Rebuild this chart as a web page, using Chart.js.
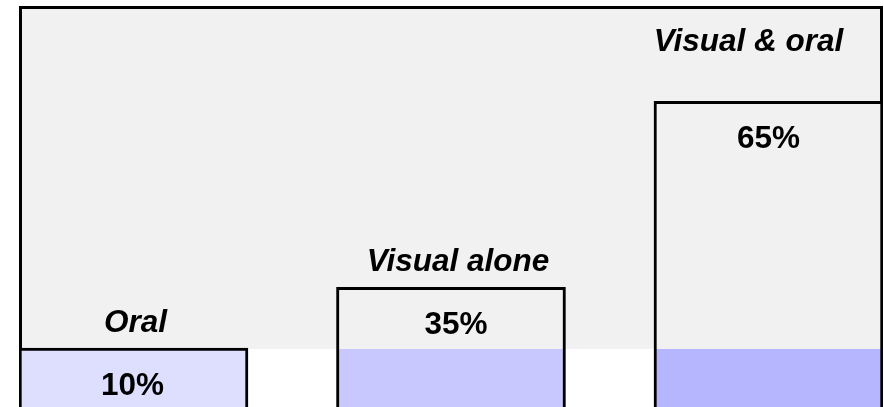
<!DOCTYPE html>
<html>
<head>
<meta charset="utf-8">
<script src="https://cdn.jsdelivr.net/npm/chart.js@4.4.1/dist/chart.umd.min.js"></script>
<style>
  html, body { margin: 0; padding: 0; background: #ffffff; }
  #wrap { width: 884px; height: 407px; position: relative; }
</style>
</head>
<body>
<div id="wrap"><canvas id="chartRetencao"></canvas></div>
<script>
// Dados
const categories = ['Oral', 'Visual alone', 'Visual & oral'];
const shares = [10, 35, 65];               // % printed inside each bar
const barHeights = [14.7, 29.85, 76.2];    // bar tops (0-100 drawing scale)
const cutLevel = 14.45;                    // level where the grey panel ends

// Estilo
const barColors = ['#dedeff', '#c8c8ff', '#b6b6ff'];
const panelGrey = '#f1f1f1';
const labelLift = [16, 16, 50];     // px above bar top for the category name
const labelShift = [2, 7, -20];     // px horizontal nudge for the category name
const valueShift = [-1, 5, 0];      // px horizontal nudge for the percentage
const fontFamily = '"Liberation Sans", Arial, Helvetica, sans-serif';

// fundo cinza + moldura
const panelPlugin = {
  id: 'panel',
  beforeDatasetsDraw(chart) {
    const { ctx, chartArea } = chart;
    const cut = chart.scales.y.getPixelForValue(cutLevel);
    ctx.save();
    ctx.fillStyle = panelGrey;
    ctx.fillRect(chartArea.left, chartArea.top, chartArea.right - chartArea.left, cut - chartArea.top);
    ctx.strokeStyle = '#000';
    ctx.lineWidth = 3;
    ctx.beginPath();
    ctx.moveTo(chartArea.left + 1.5, cut);
    ctx.lineTo(chartArea.left + 1.5, chartArea.top + 1.5);
    ctx.lineTo(chartArea.right - 1.5, chartArea.top + 1.5);
    ctx.lineTo(chartArea.right - 1.5, cut);
    ctx.stroke();
    ctx.restore();
  }
};

// textos das barras
const labelPlugin = {
  id: 'barLabels',
  afterDatasetsDraw(chart) {
    const { ctx } = chart;
    const meta = chart.getDatasetMeta(0);
    ctx.save();
    ctx.fillStyle = '#000';
    ctx.textAlign = 'center';
    ctx.textBaseline = 'alphabetic';
    meta.data.forEach(function(bar, i) {
      ctx.font = 'italic bold 31.5px ' + fontFamily;
      ctx.fillText(categories[i], bar.x + labelShift[i], bar.y - labelLift[i]);
      ctx.font = 'bold 31.5px ' + fontFamily;
      ctx.fillText(shares[i] + '%', bar.x + valueShift[i], bar.y + 47);
    });
    ctx.restore();
  }
};

function barFill(context) {
  const chart = context.chart;
  const area = chart.chartArea;
  const color = barColors[context.dataIndex];
  if (!area) return color;
  const cut = chart.scales.y.getPixelForValue(cutLevel);
  const f = (cut - area.top) / (area.bottom - area.top);
  const g = chart.ctx.createLinearGradient(0, area.top, 0, area.bottom);
  g.addColorStop(0, panelGrey);
  g.addColorStop(f, panelGrey);
  g.addColorStop(f, color);
  g.addColorStop(1, color);
  return g;
}

const ctx1 = document.getElementById('chartRetencao').getContext('2d');
new Chart(ctx1, {
  type: 'bar',
  data: {
    datasets: [{
      label: 'Retention',
      data: barHeights.map(function(h, i) { return { x: i, y: h }; }),
      backgroundColor: barFill,
      borderColor: '#000',
      borderWidth: 3,
      borderSkipped: 'start',
      barThickness: 229
    }]
  },
  options: {
    responsive: true,
    maintainAspectRatio: false,
    animation: false,
    layout: { padding: { left: 19, right: 1, top: 6, bottom: 0 } },
    plugins: {
      legend: { display: false },
      tooltip: { enabled: false }
    },
    scales: {
      x: { type: 'linear', display: false, offset: false, min: -0.3606, max: 2.3607 },
      y: { display: false, min: 0, max: 100 }
    }
  },
  plugins: [panelPlugin, labelPlugin]
});
</script>
</body>
</html>
